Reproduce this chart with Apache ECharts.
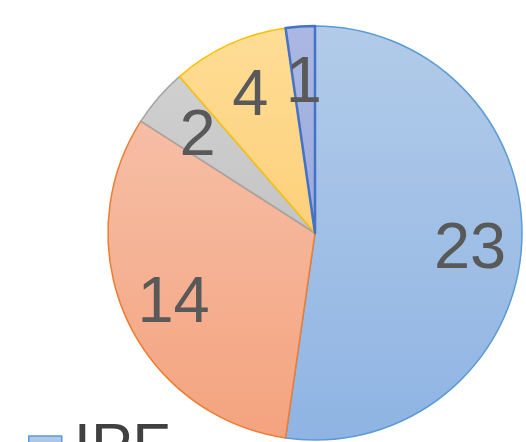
<!DOCTYPE html>
<html>
<head>
<meta charset="utf-8">
<script src="https://cdn.jsdelivr.net/npm/echarts@6/dist/echarts.min.js"></script>
<style>
  html, body { margin: 0; padding: 0; background: #fff; }
  #chart { width: 526px; height: 442px; }
</style>
</head>
<body>
<div id="chart"></div>
<script>
// categories and counts (only "IPF" is readable in the picture)
const categories = ["IPF", "Other A", "Other B", "Other C", "Other D"];
const values = [23, 14, 2, 4, 1];
// fill top, fill bottom, border
const topColors = ["#b2cbe9", "#f6bea6", "#d0d0d0", "#fedd96", "#abb8e3"];
const bottomColors = ["#8fb4e3", "#f4a37e", "#c4c4c4", "#fdd07a", "#9aaadc"];
const borderColors = ["#5b9bd5", "#ed7d31", "#a5a5a5", "#ffc000", "#4472c4"];

const chart = echarts.init(document.getElementById("chart"));

const pieData = categories.map(function (name, i) {
  return {
    name: name,
    value: values[i],
    itemStyle: {
      color: new echarts.graphic.LinearGradient(0, 0, 0, 1, [
        { offset: 0, color: topColors[i] },
        { offset: 1, color: bottomColors[i] },
      ]),
      borderColor: borderColors[i],
      borderWidth: i === 4 ? 2.5 : 1.5,
    },
  };
});

const labelData = categories.map(function (name, i) {
  return { name: name, value: values[i] };
});

chart.setOption({
  animation: false,
  legend: {
    data: ["IPF"],
    orient: "vertical",
    left: 23,
    top: 413,
    itemWidth: 33,
    itemHeight: 26,
    itemGap: 20,
    icon: "rect",
    itemStyle: { borderColor: "#5b9bd5", borderWidth: 1.5 },
    textStyle: {
      fontFamily: "Liberation Sans",
      fontSize: 62,
      color: "#404040",
      padding: [0, 0, 0, 7],
    },
  },
  series: [
    {
      type: "pie",
      center: [315, 233],
      radius: [0, 207],
      startAngle: 90,
      clockwise: true,
      silent: true,
      label: { show: false },
      labelLine: { show: false },
      data: pieData,
    },
    {
      // transparent ring, only used to place the value labels
      type: "pie",
      center: [315, 233],
      radius: [98, 207],
      startAngle: 90,
      clockwise: true,
      silent: true,
      itemStyle: { color: "rgba(0,0,0,0)" },
      label: {
        show: true,
        position: "inside",
        formatter: "{c}",
        fontFamily: "Liberation Sans",
        fontSize: 65,
        color: "#595959",
        offset: [0, 6],
      },
      labelLine: { show: false },
      data: labelData,
    },
  ],
});
</script>
</body>
</html>
